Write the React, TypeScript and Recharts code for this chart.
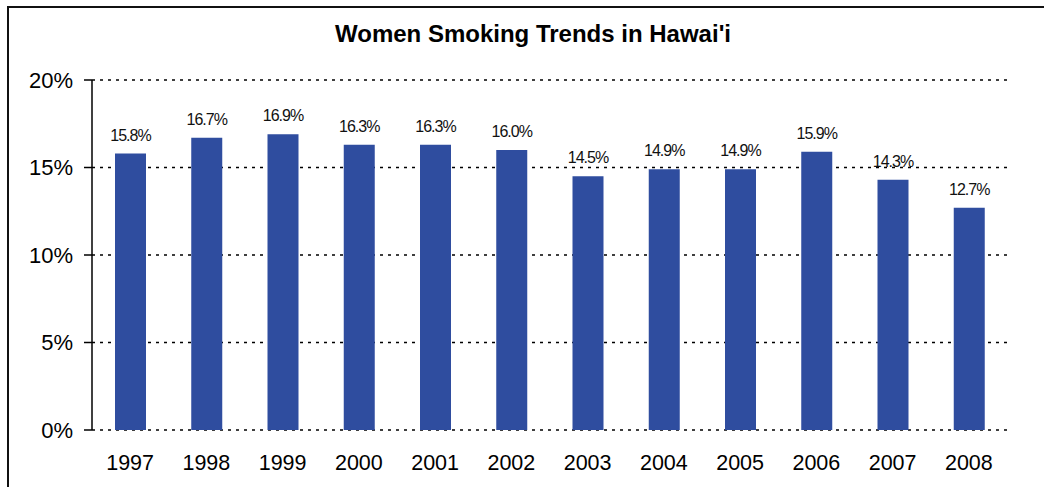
import React from 'react';
import {
  BarChart,
  Bar,
  XAxis,
  YAxis,
  CartesianGrid,
  LabelList,
} from 'recharts';

const years = ['1997', '1998', '1999', '2000', '2001', '2002', '2003', '2004', '2005', '2006', '2007', '2008'];
const smokingRates = [15.8, 16.7, 16.9, 16.3, 16.3, 16.0, 14.5, 14.9, 14.9, 15.9, 14.3, 12.7];
const yTicks = [0, 5, 10, 15, 20];

const data = years.map((year, i) => ({ year, rate: smokingRates[i] }));
// category boundaries, used only for the tick marks between bars
const edgeTicks = [...years.map((_, i) => i), years.length];

const FONT = '"Liberation Sans", Arial, sans-serif';

export default function App() {
  return (
    <div style={{ position: 'absolute', left: 0, top: 0, width: 1044, height: 487, background: '#fff', overflow: 'hidden', fontFamily: FONT }}>
      <div
        style={{
          position: 'absolute',
          left: 7,
          top: 6,
          width: 1100,
          height: 600,
          borderLeft: '2px solid #111',
          borderTop: '2px solid #111',
        }}
      />
      <div
        style={{
          position: 'absolute',
          left: 333,
          width: 400,
          top: 20,
          textAlign: 'center',
          fontWeight: 'bold',
          fontSize: 24,
          whiteSpace: 'nowrap',
          color: '#000',
        }}
      >
        Women Smoking Trends in Hawai'i
      </div>
      <div style={{ position: 'absolute', left: 0, top: 0 }}>
        <BarChart width={1044} height={487} data={data} margin={{ top: 80, right: 37, left: 12, bottom: 17 }}>
          <CartesianGrid horizontal vertical={false} stroke="#000" strokeDasharray="3 5" strokeWidth={1.5} />
          <XAxis
            type="number"
            domain={[0, years.length]}
            ticks={edgeTicks}
            height={0}
            tick={false}
            axisLine={{ stroke: '#000', strokeWidth: 1.5 }}
            tickLine={{ stroke: '#000', strokeWidth: 1.5 }}
            tickSize={7}
            allowDataOverflow
          />
          <XAxis
            xAxisId="cat"
            dataKey="year"
            height={40}
            axisLine={false}
            tickLine={false}
            tickSize={6}
            tickMargin={19}
            interval={0}
            tick={{ fill: '#000', fontSize: 21.5, fontFamily: FONT }}
          />
          <YAxis
            domain={[0, 20]}
            ticks={yTicks}
            width={80}
            tickFormatter={(v: number) => `${v}%`}
            axisLine={{ stroke: '#000', strokeWidth: 1.5 }}
            tickLine={{ stroke: '#000', strokeWidth: 1.5 }}
            tickSize={8}
            tickMargin={11}
            tick={{ fill: '#000', fontSize: 22, fontFamily: FONT }}
          />
          <Bar dataKey="rate" xAxisId="cat" fill="#2F4D9F" barSize={31} isAnimationActive={false}>
            <LabelList
              dataKey="rate"
              position="top"
              offset={13}
              formatter={(v: unknown) => `${Number(v).toFixed(1)}%`}
              style={{ fill: '#111', fontSize: 16, fontFamily: FONT, letterSpacing: -1 }}
            />
          </Bar>
        </BarChart>
      </div>
    </div>
  );
}
